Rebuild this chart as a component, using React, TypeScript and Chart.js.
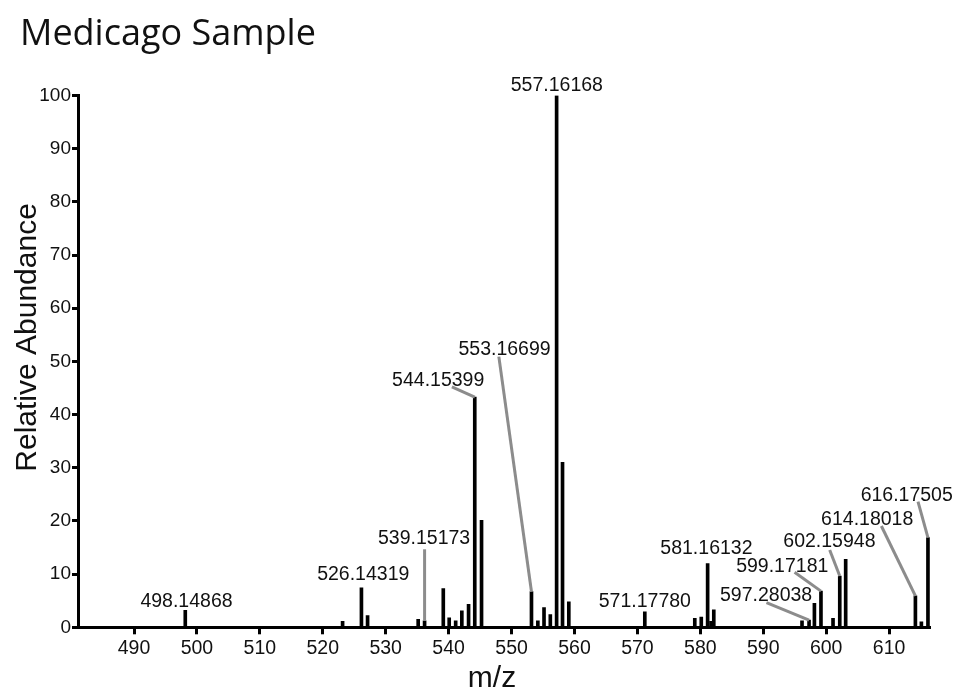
import { useEffect, useRef } from 'react';
import { Chart, registerables } from 'chart.js';

Chart.register(...registerables);

// Centroided peaks of the mass spectrum (m/z and relative abundance, %)
const peakMz = [
  498.14868, 523.15, 526.14319, 527.12, 535.16, 536.18, 539.15173, 540.09,
  541.12, 542.1, 543.17, 544.15399, 545.23, 553.16699, 554.18, 555.16,
  556.16, 557.16168, 558.1, 559.1, 571.1778, 579.12, 580.15, 581.16132,
  581.7, 582.14, 596.16, 597.28038, 598.13, 599.17181, 601.09, 602.15948,
  603.1, 614.18018, 615.13, 616.17505,
];
const peakAbundance = [
  3.2, 1.1, 7.4, 2.2, 1.5, 1.2, 7.3, 1.8,
  1.2, 3.1, 4.3, 43.3, 20.1, 6.7, 1.2, 3.7,
  2.4, 100, 31.0, 4.8, 2.9, 1.7, 1.9, 12.0,
  1.1, 3.3, 1.2, 1.35, 4.5, 6.8, 1.7, 9.65,
  12.8, 5.9, 1.05, 16.85,
];

const xTicks = [490, 500, 510, 520, 530, 540, 550, 560, 570, 580, 590, 600, 610];
const yTicks = [0, 10, 20, 30, 40, 50, 60, 70, 80, 90, 100];
const xRange = [481.1, 616.5];

// Peak annotations: text centre / baseline in data units, optional leader line
// running from a point near the text to the top of a peak.
type PeakNote = {
  mz: number;
  at: [number, number];
  from?: [number, number];
  to?: number;
};
const peakNotes: PeakNote[] = [
  { mz: 557.16168, at: [557.2, 100.8] },
  { mz: 544.15399, at: [538.34, 45.4], from: [540.52, 45.2], to: 544.15399 },
  { mz: 553.16699, at: [548.89, 51.15], from: [547.98, 50.9], to: 553.16699 },
  { mz: 539.15173, at: [536.1, 15.7], from: [536.18, 14.67], to: 536.18 },
  { mz: 526.14319, at: [526.43, 8.84] },
  { mz: 498.14868, at: [498.34, 3.82] },
  { mz: 571.1778, at: [571.18, 3.82] },
  { mz: 581.16132, at: [580.97, 13.73] },
  { mz: 597.28038, at: [590.45, 4.95], from: [590.51, 4.63], to: 597.28038 },
  { mz: 599.17181, at: [593.02, 10.4], from: [594.98, 10.34], to: 599.17181 },
  { mz: 602.15948, at: [600.51, 15.1], from: [600.56, 14.54], to: 602.15948 },
  { mz: 614.18018, at: [606.52, 19.18], from: [608.77, 19.05], to: 614.18018 },
  { mz: 616.17505, at: [612.8, 23.75], from: [614.59, 23.62], to: 616.17505 },
];

const chartTitle = 'Medicago Sample';
const yTitle = 'Relative Abundance';
const xTitle = 'm/z';

const SANS = '"Liberation Sans", Arial, sans-serif';

const annotationPlugin = {
  id: 'peakAnnotations',
  afterDraw(chart: any) {
    const { ctx, scales, chartArea } = chart;
    const sx = scales.x;
    const sy = scales.y;
    ctx.save();

    // leader lines
    ctx.strokeStyle = '#8c8c8c';
    ctx.lineWidth = 3;
    ctx.lineCap = 'butt';
    peakNotes.forEach((n) => {
      if (!n.from || n.to === undefined) return;
      const idx = peakMz.indexOf(n.to);
      const top = peakAbundance[idx];
      ctx.beginPath();
      ctx.moveTo(sx.getPixelForValue(n.from[0]), sy.getPixelForValue(n.from[1]));
      ctx.lineTo(sx.getPixelForValue(n.to), sy.getPixelForValue(top));
      ctx.stroke();
    });

    // peak labels
    ctx.fillStyle = '#111';
    ctx.font = `19.5px ${SANS}`;
    ctx.textAlign = 'center';
    ctx.textBaseline = 'alphabetic';
    peakNotes.forEach((n) => {
      ctx.fillText(n.mz.toFixed(5), sx.getPixelForValue(n.at[0]), sy.getPixelForValue(n.at[1]));
    });

    // chart title
    ctx.textAlign = 'left';
    ctx.font = '36px "Open Sans", "Noto Sans", sans-serif';
    ctx.fillText(chartTitle, 20, 45);

    // axis titles
    ctx.font = `30px ${SANS}`;
    ctx.textAlign = 'center';
    ctx.fillText(xTitle, 492, 687);
    ctx.save();
    ctx.translate(36, (chartArea.top + chartArea.bottom) / 2 - 24);
    ctx.rotate(-Math.PI / 2);
    ctx.fillText(yTitle, 0, 0);
    ctx.restore();

    ctx.restore();
  },
};

export default function App() {
  const canvasRef = useRef<HTMLCanvasElement | null>(null);

  useEffect(() => {
    const canvas = canvasRef.current;
    if (!canvas) return;
    const chart = new Chart(canvas, {
      type: 'bar',
      data: {
        datasets: [
          {
            data: peakMz.map((mz, i) => ({ x: mz, y: peakAbundance[i] })),
            backgroundColor: '#000',
            borderWidth: 0,
            barThickness: 3,
            grouped: false,
          } as any,
        ],
      },
      options: {
        responsive: false,
        animation: false,
        devicePixelRatio: 1,
        layout: { padding: { top: 95.5, right: 26, left: 0, bottom: 0 } },
        plugins: {
          legend: { display: false },
          tooltip: { enabled: false },
          title: { display: false },
        },
        scales: {
          x: {
            type: 'linear',
            min: xRange[0],
            max: xRange[1],
            offset: false,
            afterBuildTicks: (scale: any) => {
              scale.ticks = xTicks.map((v) => ({ value: v }));
            },
            afterFit: (scale: any) => {
              scale.height = 692 - 627.3;
            },
            grid: {
              display: true,
              offset: false,
              drawOnChartArea: false,
              drawTicks: true,
              tickLength: 7,
              tickWidth: 3,
              tickColor: '#000',
            },
            border: { display: true, width: 3, color: '#000' },
            ticks: {
              autoSkip: false,
              maxRotation: 0,
              padding: 3,
              color: '#111',
              font: { family: SANS, size: 19.5 },
            },
          },
          y: {
            type: 'linear',
            min: 0,
            max: 100,
            afterBuildTicks: (scale: any) => {
              scale.ticks = yTicks.map((v) => ({ value: v }));
            },
            afterFit: (scale: any) => {
              scale.width = 78;
            },
            grid: {
              display: true,
              offset: false,
              drawOnChartArea: false,
              drawTicks: true,
              tickLength: 6,
              tickWidth: 3,
              tickColor: '#000',
            },
            border: { display: true, width: 3, color: '#000' },
            ticks: {
              autoSkip: false,
              padding: 1,
              color: '#111',
              font: { family: SANS, size: 19 },
            },
          },
        },
      },
      plugins: [annotationPlugin],
    });
    return () => chart.destroy();
  }, []);

  return (
    <div style={{ position: 'fixed', left: 0, top: 0, width: 956, height: 692, background: '#fff' }}>
      <canvas ref={canvasRef} width={956} height={692} style={{ display: 'block' }} />
    </div>
  );
}
